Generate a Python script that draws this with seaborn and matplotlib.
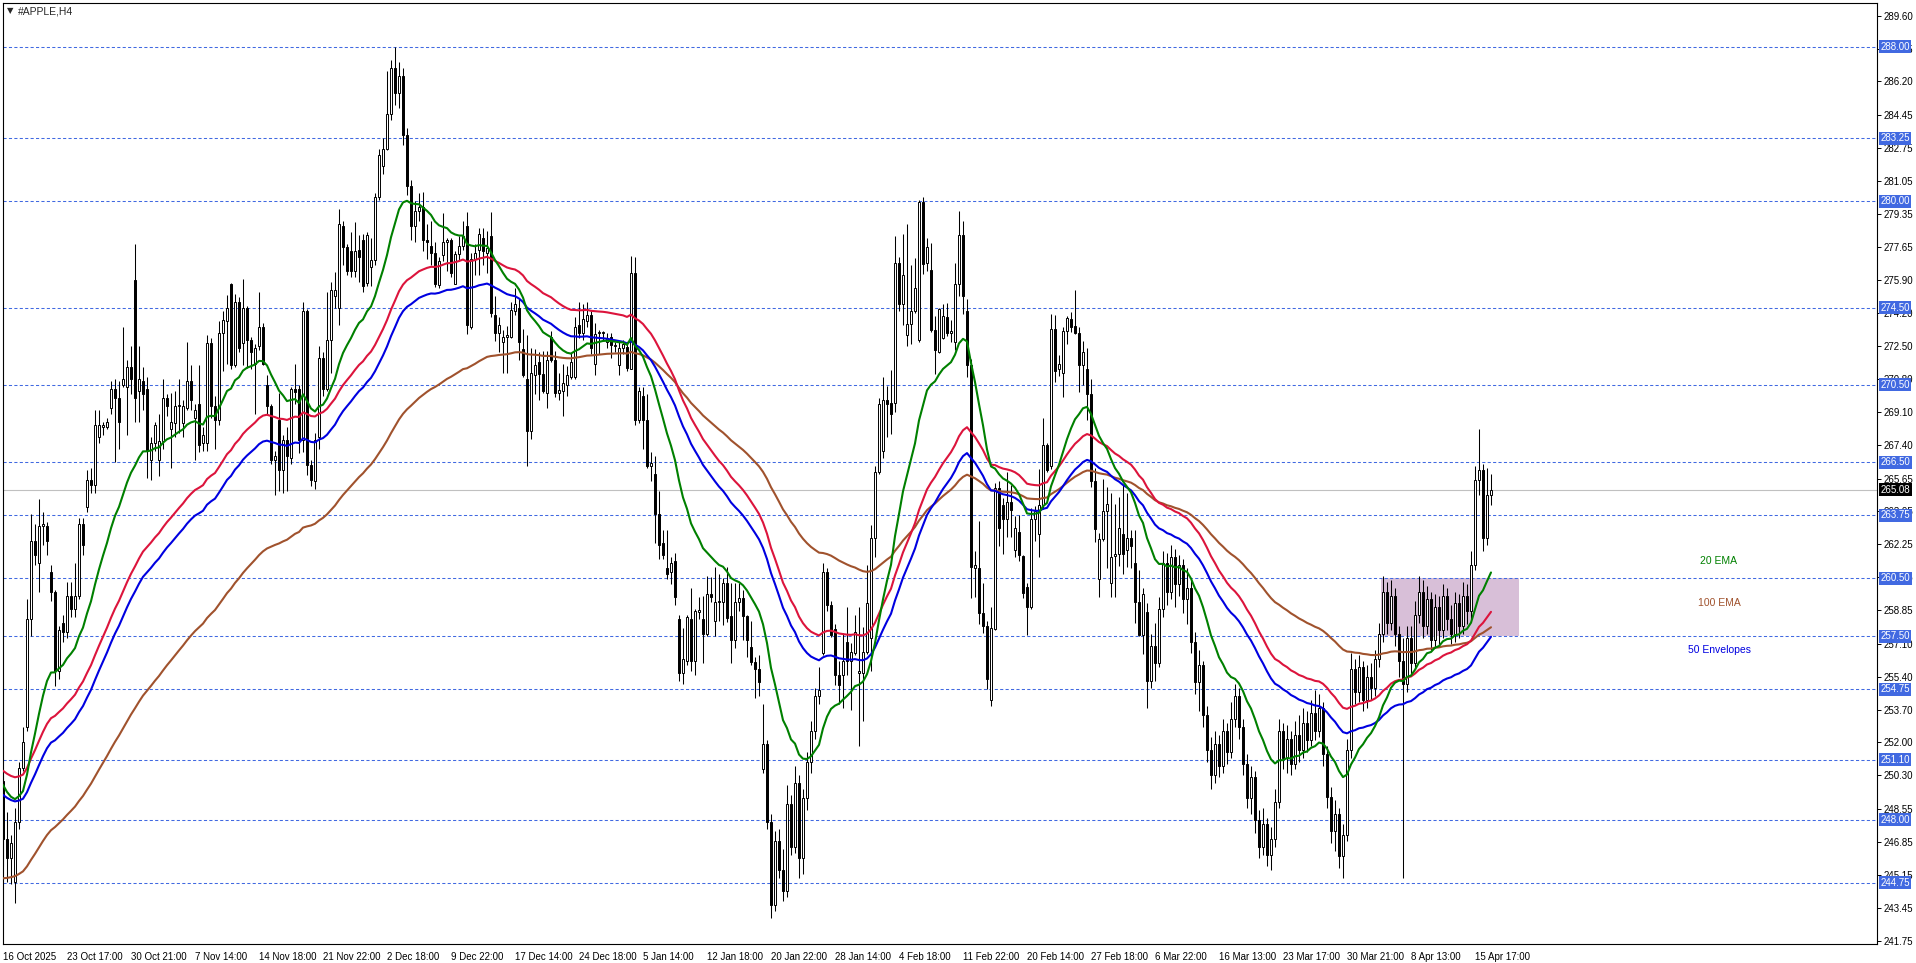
import numpy as np
import pandas as pd
import matplotlib
matplotlib.use("Agg")
import matplotlib.pyplot as plt
from matplotlib.patches import Rectangle
import seaborn as sns

# H4 candles (bar 0 = 16 Oct 2025)
opens = [
    250.0, 247.0, 246.0, 244.8, 247.9, 250.7, 252.8, 258.4, 262.4, 261.3,
    263.2, 263.2, 260.8, 259.8, 255.7, 258.2, 257.7, 259.6, 258.9, 259.6,
    263.3, 264.2, 265.6, 265.3, 267.8, 268.3, 268.3, 269.3, 270.3, 269.8,
    270.5, 270.4, 271.4, 275.9, 270.2, 270.7, 270.3, 266.6, 267.5, 266.6,
    267.6, 269.8, 268.2, 268.5, 269.4, 268.5, 269.3, 270.7, 268.8, 269.5,
    267.5, 267.5, 272.65, 269.4, 268.7, 273.2, 273.8, 275.7, 271.5, 274.8,
    272.65, 274.5, 272.8, 271.6, 272.5, 273.5, 270.5, 269.4, 266.6, 268.7,
    266.1, 267.65, 266.7, 270.3, 270.3, 267.65, 274.3, 266.35, 265.5, 267.8,
    271.9, 270.3, 272.8, 275.1, 274.5, 278.7, 277.65, 277.4, 276.4, 277.5,
    278.0, 275.75, 276.6, 276.95, 280.2, 281.8, 282.7, 284.5, 286.9, 285.6,
    286.5, 283.4, 280.8, 278.7, 279.5, 279.7, 278.0, 277.7, 277.3, 275.65,
    277.2, 277.9, 278.0, 275.7, 277.25, 277.7, 278.7, 273.5, 277.0, 277.5,
    278.1, 277.3, 278.2, 274.1, 273.2, 272.7, 273.0, 273.0, 274.3, 274.5,
    272.35, 270.8, 268.1, 271.0, 271.7, 271.05, 270.1, 273.0, 271.8, 270.1,
    270.2, 270.5, 270.9, 270.9, 273.6, 273.2, 273.8, 274.1, 271.6, 273.2,
    273.2, 272.7, 272.95, 272.5, 271.5, 272.4, 272.45, 271.3, 276.3, 268.7,
    269.9, 268.7, 266.3, 265.9, 263.8, 262.3, 261.0, 260.8, 261.4, 258.4,
    255.6, 256.2, 258.4, 256.2, 258.75, 258.4, 257.6, 259.7, 258.3, 259.25,
    259.25, 260.25, 258.55, 257.3, 259.25, 259.45, 258.55, 256.95, 256.15, 255.8,
    250.6, 251.9, 247.9, 243.6, 246.9, 245.4, 244.3, 248.8, 246.6, 249.9,
    246.0, 249.1, 251.0, 252.6, 254.4, 256.6, 260.8, 259.1, 257.85, 255.5,
    255.5, 257.2, 256.2, 256.6, 255.6, 255.6, 256.66, 257.4, 262.6, 266.0,
    267.1, 269.7, 269.56, 269.56, 276.8, 274.66, 273.1, 273.67, 274.3, 272.84,
    279.94, 276.8, 276.45, 273.33, 272.18, 272.94, 273.99, 273.2, 272.7, 275.7,
    278.24, 274.3, 271.5, 261.0, 261.0, 258.68, 258.0, 254.17, 257.85, 265.15,
    264.3, 263.56, 264.43, 261.97, 262.9, 261.65, 260.03, 259.0, 263.56, 262.8,
    264.3, 267.4, 266.28, 273.4, 271.3, 271.1, 273.28, 273.9, 273.56, 273.2,
    271.5, 271.3, 270.05, 265.5, 260.46, 262.5, 263.96, 260.26, 261.65, 261.77,
    262.77, 261.97, 262.57, 261.26, 259.27, 257.55, 258.74, 255.2, 257.0, 256.1,
    258.9, 261.3, 259.8, 261.6, 260.2, 261.2, 259.4, 260.0, 257.2, 255.1,
    256.0, 253.4, 251.6, 250.3, 251.9, 250.8, 252.6, 251.5, 253.2, 254.4,
    252.8, 250.9, 249.1, 250.2, 248.0, 246.6, 247.8, 246.2, 247.0, 248.9,
    252.6, 251.2, 252.2, 250.9, 252.4, 251.6, 253.0, 252.1, 253.5, 252.6,
    253.8, 251.4, 249.2, 247.4, 248.3, 246.1, 247.2, 251.6, 255.8, 254.6,
    255.9, 254.2, 255.4, 254.8, 256.3, 257.6, 259.8, 258.2, 259.6, 257.6,
    256.2, 255.0, 257.4, 256.1, 258.6, 259.8, 258.0, 259.4, 257.3, 259.0,
    257.8, 259.6, 258.4, 257.6, 259.2, 258.0, 259.6, 258.8, 261.2, 265.6,
    266.1, 262.6, 264.8,
]
highs = [
    250.3, 248.4, 247.2, 248.6, 251.0, 252.8, 259.4, 263.8, 263.3, 264.6,
    263.9, 263.4, 261.2, 259.9, 258.0, 258.6, 260.3, 260.3, 261.3, 263.6,
    263.6, 266.1, 266.2, 269.2, 269.2, 268.6, 268.8, 270.7, 270.8, 270.7,
    273.5, 271.8, 272.5, 277.8, 272.5, 271.4, 270.9, 267.8, 268.6, 269.0,
    270.8, 270.0, 270.1, 270.2, 270.8, 269.7, 272.7, 271.5, 269.5, 271.5,
    268.3, 273.1, 272.9, 269.9, 273.8, 274.3, 275.15, 275.75, 275.2, 275.05,
    276.0, 274.6, 273.0, 272.6, 275.3, 273.7, 271.0, 269.5, 267.1, 270.1,
    267.9, 268.3, 270.4, 271.6, 270.5, 274.8, 274.4, 266.6, 268.0, 272.5,
    272.2, 275.3, 275.8, 276.35, 279.6, 279.0, 277.8, 278.4, 278.9, 278.25,
    278.3, 278.4, 278.1, 280.4, 282.7, 283.25, 286.75, 287.3, 288.0, 287.2,
    286.9, 283.8, 281.1, 280.0, 280.4, 280.5, 278.8, 279.0, 277.9, 277.1,
    279.4, 278.1, 278.1, 277.4, 278.2, 279.0, 279.45, 277.3, 277.8, 278.6,
    278.6, 278.45, 279.45, 275.1, 274.0, 273.35, 273.55, 274.8, 275.5, 275.0,
    273.4, 273.1, 272.4, 272.35, 272.2, 272.25, 272.25, 273.3, 272.25, 271.1,
    271.6, 271.45, 272.15, 274.0, 274.8, 274.7, 274.8, 274.3, 273.7, 273.35,
    273.3, 273.2, 273.2, 272.7, 272.7, 272.8, 272.7, 277.15, 277.1, 270.4,
    270.4, 270.0, 267.05, 266.8, 265.0, 263.0, 263.0, 261.6, 261.8, 258.6,
    257.9, 258.6, 260.0, 258.9, 259.5, 259.55, 260.6, 260.55, 261.1, 260.7,
    260.5, 261.1, 260.25, 260.25, 260.25, 259.9, 258.6, 258.3, 256.4, 256.5,
    254.0, 252.1, 248.3, 247.4, 247.5, 246.5, 249.8, 249.3, 250.8, 250.3,
    249.6, 251.5, 253.1, 254.8, 255.9, 261.3, 261.0, 259.3, 258.15, 256.2,
    257.65, 259.0, 257.15, 258.6, 259.0, 257.95, 261.2, 263.25, 266.3, 269.8,
    270.9, 270.45, 271.25, 278.2, 277.1, 278.3, 278.8, 276.7, 277.05, 280.08,
    280.22, 278.1, 277.84, 274.07, 274.5, 274.66, 274.72, 273.83, 276.8, 279.5,
    279.0, 274.95, 271.83, 261.9, 263.46, 260.23, 258.28, 259.03, 265.42, 265.54,
    264.63, 265.98, 265.34, 263.7, 263.76, 261.71, 260.27, 264.15, 264.23, 266.14,
    268.76, 267.47, 274.16, 274.12, 272.03, 273.48, 274.08, 274.28, 275.41, 273.48,
    272.77, 272.43, 270.78, 266.18, 262.81, 265.62, 265.23, 264.89, 264.35, 264.69,
    265.34, 264.89, 263.0, 263.0, 260.92, 259.99, 259.23, 257.6, 258.2, 259.5,
    261.9, 261.8, 262.2, 262.0, 261.7, 261.5, 261.0, 260.4, 257.7, 256.8,
    256.2, 253.9, 252.3, 252.6, 252.4, 253.2, 253.0, 254.1, 255.0, 254.8,
    253.2, 251.4, 250.8, 250.5, 248.5, 248.6, 248.1, 247.6, 249.6, 253.2,
    253.0, 252.9, 252.6, 253.1, 253.4, 253.8, 253.6, 254.2, 254.7, 254.5,
    254.1, 251.8, 249.7, 249.0, 248.6, 247.8, 252.2, 256.6, 256.3, 256.5,
    256.2, 256.0, 256.1, 256.8, 258.2, 260.6, 260.3, 260.4, 260.0, 258.0,
    257.4, 258.0, 258.0, 259.3, 260.6, 260.4, 260.1, 259.8, 259.7, 259.6,
    260.2, 260.0, 259.1, 259.8, 259.7, 260.3, 260.2, 261.9, 266.3, 268.2,
    266.4, 266.2, 265.9,
]
lows = [
    245.6, 244.8, 244.7, 243.7, 247.5, 250.5, 252.6, 257.5, 261.2, 259.8,
    262.2, 261.7, 259.3, 254.9, 255.3, 257.2, 257.4, 258.5, 258.5, 259.4,
    261.7, 263.9, 264.9, 264.9, 267.5, 267.9, 268.2, 269.0, 266.5, 267.2,
    270.4, 267.9, 270.0, 268.6, 268.6, 269.2, 265.7, 265.6, 267.1, 265.8,
    267.2, 268.9, 266.2, 267.8, 268.0, 267.8, 269.2, 269.2, 266.6, 267.0,
    267.1, 267.1, 268.8, 267.2, 268.4, 271.2, 271.6, 271.3, 271.4, 272.2,
    271.5, 271.35, 271.3, 269.0, 272.3, 271.5, 269.0, 266.4, 264.8, 265.0,
    264.9, 265.0, 266.4, 269.5, 266.95, 267.05, 265.85, 265.25, 265.1, 267.2,
    269.9, 270.2, 271.1, 274.5, 273.6, 276.7, 276.2, 276.1, 276.1, 275.8,
    275.3, 275.6, 275.6, 276.7, 280.06, 281.4, 282.65, 284.2, 285.0, 284.8,
    282.9, 280.3, 278.0, 277.9, 278.95, 277.4, 277.0, 276.7, 275.55, 275.5,
    276.9, 276.4, 276.1, 275.7, 276.9, 277.5, 273.15, 273.4, 276.2, 276.2,
    276.7, 276.3, 274.0, 272.75, 272.2, 271.1, 271.1, 272.9, 274.1, 271.8,
    270.9, 266.3, 267.7, 270.0, 269.7, 270.1, 269.3, 271.7, 269.85, 269.7,
    268.9, 269.94, 270.8, 270.8, 272.9, 272.8, 273.5, 272.1, 271.0, 272.1,
    272.8, 272.4, 271.9, 272.2, 271.0, 272.1, 271.2, 271.3, 268.4, 268.55,
    267.2, 266.2, 265.5, 262.3, 261.5, 261.5, 260.45, 260.2, 259.1, 255.2,
    255.0, 256.0, 255.7, 255.5, 258.4, 256.1, 257.5, 259.25, 257.5, 258.3,
    258.05, 258.25, 256.1, 256.9, 258.8, 257.3, 256.4, 256.0, 254.3, 254.4,
    250.4, 247.5, 242.9, 243.3, 245.0, 243.8, 244.0, 246.2, 246.3, 245.0,
    245.2, 248.5, 250.4, 252.2, 254.0, 256.5, 258.8, 257.45, 254.97, 253.98,
    253.8, 255.5, 253.7, 256.5, 251.8, 253.1, 256.56, 255.7, 261.6, 265.9,
    266.7, 267.8, 267.97, 269.1, 274.33, 273.6, 272.5, 272.6, 274.23, 272.74,
    276.25, 276.41, 273.23, 271.05, 272.14, 272.88, 273.03, 272.7, 272.3, 275.1,
    274.16, 270.9, 259.47, 259.53, 258.14, 257.65, 254.77, 253.87, 257.8, 262.17,
    261.77, 262.65, 262.61, 261.58, 261.38, 259.47, 257.55, 258.88, 262.41, 261.58,
    264.09, 265.98, 266.14, 270.64, 270.94, 269.85, 272.63, 273.22, 273.12, 270.11,
    270.5, 268.66, 265.19, 262.37, 259.53, 262.41, 261.02, 259.53, 259.53, 261.12,
    260.72, 261.06, 261.02, 258.2, 257.49, 256.55, 253.78, 254.8, 255.2, 255.9,
    258.5, 259.1, 259.4, 259.0, 259.6, 258.7, 258.1, 256.6, 254.5, 253.6,
    252.8, 251.0, 249.6, 249.9, 250.2, 250.4, 250.9, 251.2, 252.8, 252.2,
    250.3, 248.6, 248.3, 247.3, 246.0, 246.2, 245.6, 245.4, 246.6, 248.6,
    250.6, 250.4, 250.3, 250.6, 251.0, 251.2, 251.5, 251.8, 252.1, 252.3,
    250.8, 248.6, 246.8, 246.4, 245.5, 245.0, 246.9, 251.2, 254.0, 254.1,
    253.6, 253.8, 254.2, 254.4, 255.9, 257.2, 257.6, 257.8, 257.0, 255.4,
    245.0, 254.6, 255.5, 255.8, 258.2, 257.4, 257.6, 256.8, 256.9, 257.1,
    257.4, 257.8, 257.1, 257.2, 257.4, 257.6, 258.1, 258.4, 260.9, 264.8,
    261.9, 262.2, 264.3,
]
closes = [
    247.0, 246.0, 246.8, 247.9, 250.7, 252.0, 258.4, 262.4, 261.7, 263.2,
    263.3, 262.4, 259.8, 255.7, 257.8, 257.7, 259.6, 258.9, 259.6, 263.3,
    262.2, 265.6, 265.3, 268.4, 268.4, 268.4, 268.6, 270.3, 269.8, 268.6,
    270.8, 271.4, 270.8, 269.8, 270.8, 270.0, 267.1, 267.5, 268.4, 267.6,
    269.8, 269.4, 268.6, 269.4, 269.45, 269.4, 270.7, 269.7, 269.2, 267.4,
    267.9, 272.65, 269.4, 268.7, 273.2, 273.85, 274.5, 271.5, 274.8, 272.4,
    274.5, 272.8, 272.2, 272.4, 273.5, 271.6, 269.4, 266.6, 266.8, 266.1,
    267.65, 266.8, 270.3, 270.15, 267.65, 274.3, 266.35, 265.6, 267.65, 271.9,
    270.3, 272.8, 275.4, 275.4, 278.8, 277.65, 276.4, 276.4, 277.4, 277.1,
    275.6, 278.25, 276.95, 280.2, 282.4, 282.7, 284.5, 286.9, 285.6, 286.5,
    283.4, 280.8, 278.7, 279.5, 279.7, 278.0, 277.9, 277.3, 275.7, 276.9,
    277.9, 278.0, 276.3, 277.25, 277.7, 278.2, 273.6, 277.0, 277.3, 278.3,
    277.4, 277.6, 274.2, 273.2, 273.6, 273.0, 273.1, 274.35, 274.7, 272.7,
    271.0, 268.1, 271.1, 271.5, 271.05, 270.2, 271.8, 271.8, 270.1, 270.25,
    270.6, 271.0, 271.7, 273.5, 273.2, 273.9, 274.1, 272.4, 273.15, 273.2,
    273.25, 272.9, 272.55, 272.5, 272.4, 272.6, 271.35, 276.3, 268.7, 270.2,
    268.7, 266.3, 266.45, 263.8, 262.2, 261.7, 260.7, 261.3, 259.5, 255.6,
    256.3, 258.5, 256.2, 258.8, 258.85, 257.6, 259.7, 259.5, 259.25, 259.3,
    260.25, 258.45, 257.3, 259.25, 259.45, 258.55, 257.3, 256.15, 255.8, 255.1,
    251.9, 247.9, 243.6, 246.9, 245.4, 244.3, 248.8, 246.6, 249.9, 246.0,
    249.1, 251.0, 252.6, 254.4, 254.7, 260.8, 259.1, 257.55, 255.5, 254.97,
    256.2, 256.2, 256.66, 257.7, 255.7, 256.66, 259.2, 262.6, 266.0, 269.5,
    269.7, 269.5, 269.0, 276.8, 274.66, 276.17, 273.67, 274.3, 275.5, 279.94,
    276.77, 277.64, 273.33, 272.28, 274.42, 274.07, 273.2, 273.3, 275.7, 278.24,
    275.1, 271.5, 261.06, 261.2, 258.68, 258.0, 255.3, 257.9, 265.15, 263.1,
    263.56, 264.43, 264.0, 263.1, 261.7, 259.73, 259.0, 263.56, 263.96, 264.3,
    267.4, 266.08, 273.4, 271.24, 271.58, 273.3, 273.98, 273.5, 273.2, 271.5,
    272.2, 270.05, 265.5, 263.04, 262.5, 263.96, 264.35, 261.6, 261.77, 263.1,
    261.77, 262.57, 262.17, 259.27, 257.55, 259.67, 255.16, 257.0, 256.1, 258.9,
    261.3, 259.8, 261.6, 260.2, 261.2, 259.4, 260.0, 257.2, 255.1, 256.0,
    253.4, 251.6, 250.3, 251.9, 250.8, 252.6, 251.5, 253.2, 254.4, 252.8,
    250.9, 249.1, 250.2, 248.0, 246.6, 247.8, 246.2, 247.0, 248.9, 252.6,
    251.2, 252.2, 250.9, 252.4, 251.6, 253.0, 252.1, 253.5, 252.6, 253.8,
    251.4, 249.2, 247.4, 248.3, 246.1, 247.2, 251.6, 255.8, 254.6, 255.9,
    254.2, 255.4, 254.8, 256.3, 257.6, 259.8, 258.2, 259.6, 257.6, 256.2,
    255.0, 257.4, 256.1, 258.6, 259.8, 258.0, 259.4, 257.3, 259.0, 257.8,
    259.6, 258.4, 257.6, 259.2, 258.0, 259.6, 258.8, 261.2, 265.6, 266.1,
    262.6, 264.8, 265.08,
]

date_labels = [
    "16 Oct 2025", "23 Oct 17:00", "30 Oct 21:00", "7 Nov 14:00", "14 Nov 18:00",
    "21 Nov 22:00", "2 Dec 18:00", "9 Dec 22:00", "17 Dec 14:00", "24 Dec 18:00",
    "5 Jan 14:00", "12 Jan 18:00", "20 Jan 22:00", "28 Jan 14:00", "4 Feb 18:00",
    "11 Feb 22:00", "20 Feb 14:00", "27 Feb 18:00", "6 Mar 22:00", "16 Mar 13:00",
    "23 Mar 17:00", "30 Mar 21:00", "8 Apr 13:00", "15 Apr 17:00",
]
label_bars = list(range(0, 16 * len(date_labels), 16))

price_ticks = [
    289.60, 287.85, 286.20, 284.45, 282.75, 281.05, 279.35, 277.65, 275.90, 274.20,
    272.50, 270.80, 269.10, 267.40, 265.65, 263.95, 262.25, 260.55, 258.85, 257.10,
    255.40, 253.70, 252.00, 250.30, 248.55, 246.85, 245.15, 243.45, 241.75,
]
level_lines = [288.00, 283.25, 280.00, 274.50, 270.50, 266.50, 263.75,
               260.50, 257.50, 254.75, 251.10, 248.00, 244.75]
last_price = 265.08

# indicator start values as seen at the left edge
ema20_start = 249.8
env_mid_start = 249.91
ema100_start = 244.97
env_dev = 0.0025

zone_low, zone_high = 257.5, 260.5
zone_left, zone_right = 344.4, 379.0

o = np.array(opens)
h = np.array(highs)
l = np.array(lows)
c = np.array(closes)
n = len(c)
x = np.arange(n)


def ema(vals, span, start):
    s = pd.Series([start] + list(vals[1:]))
    return s.ewm(span=span, adjust=False).mean().values


df = pd.DataFrame({"bar": x})
df["ema20"] = ema(c, 20, ema20_start)
mid = ema(c, 50, env_mid_start)
df["env_up"] = mid * (1 + env_dev)
df["env_dn"] = mid * (1 - env_dev)
df["ema100"] = ema(c, 100, ema100_start)

sns.set_style("white")
plt.rcParams["font.family"] = ["Liberation Sans", "DejaVu Sans"]

W, H = 1916, 963
fig = plt.figure(figsize=(W / 100, H / 100), dpi=100)
ax = fig.add_axes([2.7 / W, 1 - 944 / H, (1877 - 2.7) / W, (944 - 2.7) / H])

# zone box and horizontal levels
ax.add_patch(Rectangle((zone_left, zone_low), zone_right - zone_left, zone_high - zone_low,
                       facecolor="#D8BFD8", edgecolor="none", zorder=1))
for lv in level_lines:
    ax.axhline(lv, color="#4169E1", lw=0.75, ls=(0, (3, 2.2)), zorder=1.5)
ax.axhline(last_price, color="#C0C0C0", lw=0.8, zorder=1.4)

# candles
up = c >= o
ax.vlines(x, l, h, color="black", lw=0.75, zorder=2)
body_h = np.maximum(np.abs(c - o), 0.04)
ax.bar(x, body_h, bottom=np.minimum(o, c), width=0.7,
       color=np.where(up, "white", "black"), edgecolor="black", linewidth=0.7, zorder=3)

# moving averages
sns.lineplot(data=df, x="bar", y="ema100", color="#A0522D", lw=1.5, ax=ax, zorder=4)
sns.lineplot(data=df, x="bar", y="env_up", color="#DC143C", lw=1.5, ax=ax, zorder=4)
sns.lineplot(data=df, x="bar", y="env_dn", color="#0000E0", lw=1.5, ax=ax, zorder=4)
sns.lineplot(data=df, x="bar", y="ema20", color="#008000", lw=1.5, ax=ax, zorder=4)

ax.text(429, 261.4, "20 EMA", color="#008000", ha="center", va="center", fontsize=7.5)
ax.text(429, 259.2, "100 EMA", color="#A0522D", ha="center", va="center", fontsize=7.5)
ax.text(429, 256.8, "50 Envelopes", color="#0000E0", ha="center", va="center", fontsize=7.5)

ax.set_xlim(-0.075, 468.5)
ax.set_ylim(241.57, 290.27)
ax.set_xlabel("")
ax.set_ylabel("")

ax.yaxis.tick_right()
ax.set_yticks(price_ticks)
ax.set_yticklabels([f"{v:.2f}" for v in price_ticks])
ax.tick_params(axis="y", direction="out", length=3, width=0.7, labelsize=7, pad=2, colors="black")
ax.set_xticks(label_bars)
ax.set_xticklabels(date_labels)
ax.tick_params(axis="x", direction="out", length=4, width=0.7, labelsize=7, pad=2, colors="black")
for lab in ax.get_xticklabels():
    lab.set_ha("left")

for sp in ax.spines.values():
    sp.set_visible(True)
    sp.set_color("black")
    sp.set_linewidth(0.8)

# price tags on the right scale
for lv in level_lines:
    ax.annotate(f"{lv:.2f}", xy=(1, lv), xycoords=("axes fraction", "data"),
                xytext=(2.5, 0), textcoords="offset points", ha="left", va="center",
                fontsize=7, color="white", annotation_clip=False, zorder=6,
                bbox=dict(boxstyle="square,pad=0.15", fc="#4169E1", ec="none"))
ax.annotate(f"{last_price:.2f}", xy=(1, last_price), xycoords=("axes fraction", "data"),
            xytext=(2.5, 0), textcoords="offset points", ha="left", va="center",
            fontsize=7, color="white", annotation_clip=False, zorder=6,
            bbox=dict(boxstyle="square,pad=0.15", fc="black", ec="none"))

fig.text(7 / W, 1 - 11 / H, "\u25BC", fontsize=6, va="center", family="DejaVu Sans")
fig.text(18 / W, 1 - 11 / H, "#APPLE,H4", fontsize=7.5, va="center")

fig.savefig("out.png", dpi=100)
